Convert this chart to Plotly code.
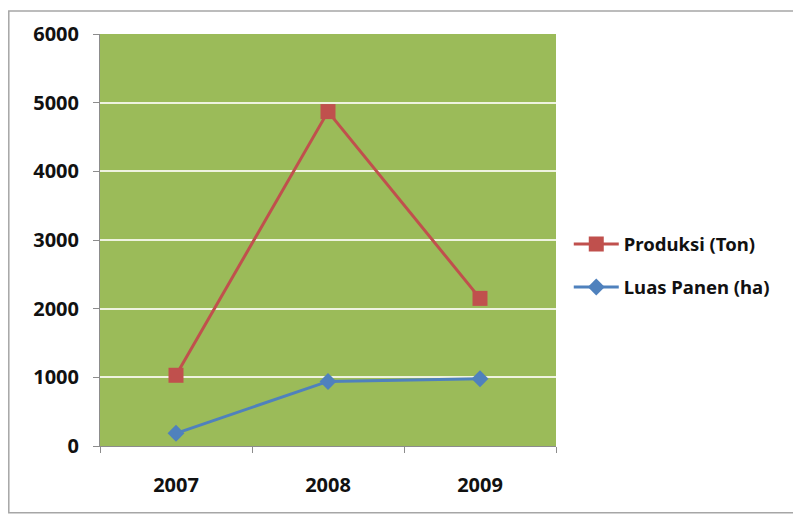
import plotly.graph_objects as go

years = ["2007", "2008", "2009"]
produksi = [1030, 4870, 2150]
luas_panen = [185, 940, 980]

FONT = "Noto Sans"

fig = go.Figure()
fig.add_trace(go.Scatter(
    x=years, y=produksi, name="Produksi (Ton)", mode="lines+markers",
    legendgroup="a",
    line=dict(color="#C0504D", width=3),
    marker=dict(symbol="square", size=15, color="#C0504D"),
))
fig.add_trace(go.Scatter(
    x=years, y=luas_panen, name="Luas Panen (ha)", mode="lines+markers",
    legendgroup="b",
    line=dict(color="#4F81BD", width=3),
    marker=dict(symbol="diamond", size=13, color="#4F81BD"),
))

# page body adds ~8px offset, so the figure is a bit smaller and shifted
fig.update_layout(
    width=793, height=512,
    margin=dict(l=92, r=245, t=24, b=74),
    paper_bgcolor="white",
    plot_bgcolor="#9BBB59",
    font=dict(family=FONT, size=18, color="#111111", weight="bold"),
    legend=dict(x=1.028, y=0.437, xanchor="left", yanchor="middle",
                font=dict(size=18.5, weight="bold"), tracegroupgap=16,
                itemwidth=45, bgcolor="rgba(0,0,0,0)"),
    shapes=[dict(type="rect", xref="paper", yref="paper",
                 x0=-0.2, x1=1.528, y0=-0.162, y1=1.056,
                 line=dict(color="#A6A6A6", width=1.5), layer="below")],
)
fig.update_xaxes(
    type="category", range=[-0.5, 2.5],
    showgrid=False, showline=True, linecolor="#8C8C8C", linewidth=1,
    ticks="outside", tickson="boundaries", ticklen=6, tickcolor="#8C8C8C",
    tickfont=dict(size=20, weight="bold"), ticklabelstandoff=21,
)
fig.update_yaxes(
    range=[0, 6000], dtick=1000,
    showgrid=True, gridcolor="#EEF3DF", gridwidth=1.5,
    zeroline=False, showline=True, linecolor="#8C8C8C",
    ticks="outside", ticklen=6, tickcolor="#8C8C8C",
    tickfont=dict(size=20, weight="bold"), ticklabelstandoff=10,
)

fig.write_html("out.html")
